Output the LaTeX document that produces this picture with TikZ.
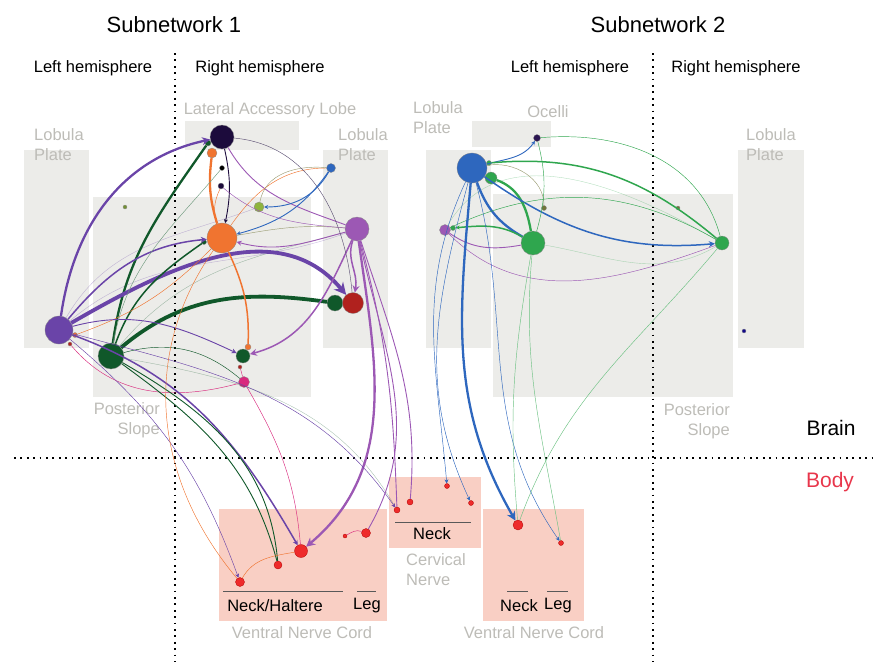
\documentclass[tikz,border=0pt]{standalone}
\usepackage{fontspec}
\setmainfont{Liberation Sans}
\usetikzlibrary{arrows.meta}
\usetikzlibrary{positioning}

\definecolor{regiongray}{HTML}{ECECE9}
\definecolor{labelgray}{HTML}{BDBCB7}
\definecolor{bodypink}{HTML}{F9CFC4}
\definecolor{bodyred}{HTML}{EE2B2B}
\definecolor{bodytext}{HTML}{E8364B}
\definecolor{cpur}{HTML}{6A44A8}
\definecolor{cdg}{HTML}{10582A}
\definecolor{cnav}{HTML}{1C0B3C}
\definecolor{corg}{HTML}{F07430}
\definecolor{cblu}{HTML}{2E67BE}
\definecolor{cyg}{HTML}{8FB43E}
\definecolor{corc}{HTML}{9C58B4}
\definecolor{cred}{HTML}{B0211E}
\definecolor{cmag}{HTML}{D9287D}
\definecolor{cgrn}{HTML}{2FA64E}
\definecolor{colv}{HTML}{72743A}
\definecolor{cpink}{HTML}{E2557A}

\newcommand{\lblfont}{\fontsize{16.5}{20}\selectfont}
\newcommand{\hdfont}{\fontsize{22}{26}\selectfont}
\newcommand{\bigfont}{\fontsize{21}{24}\selectfont}

\tikzset{
  nd/.style={circle, inner sep=0pt, draw=black!45, line width=0.3pt},
  bnd/.style={circle, inner sep=0pt, draw=red!70!black, line width=0.3pt, fill=bodyred},
  region/.style={fill=regiongray, draw=none},
  bodybox/.style={fill=bodypink, draw=none},
  rlabel/.style={text=labelgray, font=\lblfont, inner sep=0pt},
  blabel/.style={font=\lblfont, inner sep=0pt},
  sepline/.style={line width=1.8pt, dash pattern=on 1.8pt off 4.6pt},
  barline/.style={black!65, line width=1pt},
  arr/.style={-{Stealth[length=#1, width=#1]}},
  arr/.default=5pt,
  e0/.style={line width=0.45pt},
  e1/.style={line width=0.9pt},
  e2/.style={line width=1.5pt},
  e3/.style={line width=2.3pt},
  e4/.style={line width=3.8pt},
  faint/.style={line width=0.4pt, opacity=0.35},
}

\begin{document}
\begin{tikzpicture}[x=1pt, y=-1pt]
\useasboundingbox (0,0) rectangle (874,662);

% regions of the brain
\fill[region] (24,150) rectangle (89,348);
\fill[region] (93,197) rectangle (311,397);
\fill[region] (185,121) rectangle (299,150);
\fill[region] (323,150) rectangle (388,348);
\fill[region] (426,150) rectangle (491,348);
\fill[region] (472,121) rectangle (551,147);
\fill[region] (493,194) rectangle (733,397);
\fill[region] (738,150) rectangle (804,348);

% regions of the body
\fill[bodybox] (219,509) rectangle (387,621);
\fill[bodybox] (389,477) rectangle (481,548);
\fill[bodybox] (483,509) rectangle (584,621);

% separators
\draw[sepline] (175,53) -- (175,662);
\draw[sepline] (653,53) -- (653,662);
\draw[sepline] (14,458) -- (874,458);

% headings
\node[font=\hdfont] (sub1) at (174,25) {Subnetwork 1};
\node[font=\hdfont] (sub2) at (658,25) {Subnetwork 2};
\node[blabel] (lh1) at (93,68) {Left hemisphere};
\node[blabel] (rh1) at (260,68) {Right hemisphere};
\node[blabel] (lh2) at (570,68) {Left hemisphere};
\node[blabel] (rh2) at (736,68) {Right hemisphere};
\node[font=\bigfont] (brain) at (831,428) {Brain};
\node[font=\bigfont, text=bodytext] (body) at (830,482) {Body};

% region labels
\node[rlabel, align=left, anchor=north west] (lp1l) at (34,128) {Lobula\\Plate};
\node[rlabel] (lal) at (270,110) {Lateral Accessory Lobe};
\node[rlabel, align=left, anchor=north west] (lp1r) at (338,128) {Lobula\\Plate};
\node[rlabel, align=right, anchor=north east] (ps1) at (160,402) {Posterior\\Slope};
\node[rlabel, align=left, anchor=north west] (lp2l) at (413,101) {Lobula\\Plate};
\node[rlabel] (oce) at (548,112) {Ocelli};
\node[rlabel, align=left, anchor=north west] (lp2r) at (746,128) {Lobula\\Plate};
\node[rlabel, align=right, anchor=north east] (ps2) at (730,403) {Posterior\\Slope};
\node[rlabel, align=left, anchor=north west] (cerv) at (406,553) {Cervical\\Nerve};
\node[rlabel] (vnc1) at (302,633) {Ventral Nerve Cord};
\node[rlabel] (vnc2) at (534,633) {Ventral Nerve Cord};

% body labels
\node[blabel] (nh) at (275,606) {Neck/Haltere};
\node[blabel] (leg1) at (367,606) {Leg};
\node[blabel] (neck1) at (432,534) {Neck};
\node[blabel] (neck2) at (519,606) {Neck};
\node[blabel] (leg2) at (558,606) {Leg};
\draw[barline] (223,591) -- (343,591);
\draw[barline] (357,591) -- (376,591);
\draw[barline] (395,522) -- (471,522);
\draw[barline] (507,591) -- (528,591);
\draw[barline] (547,591) -- (568,591);

% subnetwork 1 neurons
\node[nd, fill=cpur, minimum size=28pt] (pur) at (59,330) {};
\node[nd, fill=cdg, minimum size=26pt] (dg) at (111,356) {};
\node[nd, fill=cnav, minimum size=24pt] (nav) at (222,137) {};
\node[nd, fill=cdg, minimum size=6pt] (navg) at (208,143) {};
\node[nd, fill=corg, minimum size=10pt] (orgs) at (212,153) {};
\node[nd, fill=black, minimum size=5pt] (nav2) at (222,168) {};
\node[nd, fill=cnav, minimum size=6pt] (nav3) at (221,186) {};
\node[nd, fill=corg, minimum size=30pt] (org) at (222,238) {};
\node[nd, fill=cdg, minimum size=5pt] (orgg) at (204,242) {};
\node[nd, fill=cblu, minimum size=9pt] (blu) at (331,168) {};
\node[nd, fill=cyg, minimum size=10pt] (yg) at (259,207) {};
\node[nd, fill=cyg!80!black, minimum size=4pt] (olv) at (125,207) {};
\node[nd, fill=corc, minimum size=24pt] (orc) at (357,229) {};
\node[nd, fill=cdg, minimum size=16pt] (dg2) at (335,303) {};
\node[nd, fill=cred, minimum size=21pt] (red) at (353,303) {};
\node[nd, fill=cdg, minimum size=14pt] (dgs) at (243,356) {};
\node[nd, fill=corg, minimum size=6pt] (orgs2) at (248,347) {};
\node[nd, fill=cred, minimum size=4pt] (reds) at (240,367) {};
\node[nd, fill=cmag, minimum size=11pt] (mag) at (244,382) {};
\node[nd, fill=corg, minimum size=5pt] (purorg) at (75,335) {};
\node[nd, fill=cred, minimum size=4pt] (purred) at (70,344) {};

% subnetwork 2 neurons
\node[nd, fill=cblu, minimum size=30pt] (blu2) at (472,168) {};
\node[nd, fill=cgrn, minimum size=12pt] (g2) at (491,178) {};
\node[nd, fill=cgrn, minimum size=5pt] (gsm) at (489,163) {};
\node[nd, fill=cnav!80!cpur, minimum size=7pt] (dp) at (537,138) {};
\node[nd, fill=colv, minimum size=5pt] (olv2) at (544,208) {};
\node[nd, fill=corc, minimum size=11pt] (orc2) at (445,230) {};
\node[nd, fill=cgrn, minimum size=5pt] (gsm2) at (453,228) {};
\node[nd, fill=cgrn, minimum size=24pt] (grb) at (533,243) {};
\node[nd, fill=colv, minimum size=4pt] (olv3) at (678,208) {};
\node[nd, fill=cgrn, minimum size=14pt] (grr) at (722,243) {};
\node[nd, fill=cnav!60!blue, minimum size=4pt] (navt) at (744,331) {};

% motor neurons
\node[bnd, minimum size=9pt] (b1) at (240,582) {};
\node[bnd, minimum size=8pt] (b2) at (278,565) {};
\node[bnd, minimum size=13pt] (b3) at (301,551) {};
\node[bnd, minimum size=4pt] (b4) at (345,536) {};
\node[bnd, minimum size=9pt] (b5) at (366,533) {};
\node[bnd, minimum size=6pt] (c1) at (397,510) {};
\node[bnd, minimum size=6pt] (c2) at (410,502) {};
\node[bnd, minimum size=5pt] (c3) at (447,486) {};
\node[bnd, minimum size=5pt] (c4) at (471,503) {};
\node[bnd, minimum size=10pt] (v1) at (518,525) {};
\node[bnd, minimum size=5pt] (v2) at (561,543) {};

% faint connections
\path[faint, cpur]
  (pur) edge[out=40, in=200] (orc)
  (pur) edge[out=60, in=200] (yg);
\path[faint, cdg]
  (dg) edge[out=50, in=195] (orc)
  (dg) edge[out=-10, in=120] (c1);
\path[faint, cgrn]
  (grb) edge[out=-10, in=-150] (grr)
  (orc2) edge[out=60, in=150] (grr);

% subnetwork 1, brain
\path[cpur, e3, arr=8pt]
  (pur) edge[out=82, in=192] (nav);
\path[cdg, e3]
  (dg) edge[out=82, in=235] (navg);
\path[cpur, e4, arr=12pt]
  (pur) edge[out=30, in=130] (red);
\path[cdg, e4]
  (dg) edge[out=40, in=172] (dg2);
\path[cpur, e2, arr=6pt]
  (pur) edge[out=50, in=185] (org);
\path[cdg, e2]
  (dg) edge[out=70, in=215] (orgg);
\path[corg, e3]
  (org) edge[bend left=12] (orgs);
\path[cnav, e1, arr=4pt]
  (nav) edge[bend left=12] (org);
\path[corg, e2]
  (org) edge[out=-65, in=88] (orgs2);
\path[corc, e2, arr=7pt]
  (orc) edge[out=245, in=15] (dgs)
  (orc) edge[out=250, in=80] (red);
\path[corc, e1, arr=5pt]
  (orc) edge[out=195, in=-15] (org);
\path[corc, e1]
  (orc) edge[out=160, in=-60] (nav);
\path[cblu, e1, arr=4pt]
  (blu) edge[out=240, in=0] (yg)
  (blu) edge[out=235, in=15] (org);
\path[corg, e0]
  (org) edge[out=55, in=180] (blu)
  (purorg) edge[out=20, in=225] (org)
  (org) edge[bend left=20] (nav3);
\path[colv!70, e0]
  (yg) edge[out=80, in=175] (blu)
  (orc) edge[out=175, in=10] (org);
\path[cnav!70, e0]
  (nav) edge[out=-5, in=95] (red);
\path[cpur, e1, arr=5pt]
  (pur) edge[out=15, in=155] (dgs);
\path[cdg, e0]
  (dg) edge[out=15, in=140] (mag);
\path[cdg!60, e0]
  (dg) edge[out=80, in=230] (nav2);
\path[corc, e0]
  (orc) edge[out=175, in=-40] (nav3);
\path[cmag, e0]
  (purred) edge[out=-50, in=195] (mag)
  (reds) edge (mag);

% subnetwork 1, brain to body
\path[corc, e3, arr=9pt]
  (orc) edge[out=-82, in=40] (b3);
\path[cpur, e2, arr=5pt]
  (pur) edge[out=-20, in=120] (b3);
\path[cdg, e1]
  (dg) edge[out=-30, in=95] (b2)
  (dg) edge[out=-36, in=105] (b2);
\path[cpur, e0, arr=4pt]
  (pur) edge[out=-40, in=110] (b1)
  (pur) edge[out=-15, in=125] (c1);
\path[corg, e0]
  (org) edge[out=235, in=130] (b1)
  (b1) edge[out=60, in=190] (b3);
\path[cmag, e0]
  (mag) edge[out=-60, in=95] (b3)
  (b5) edge[out=160, in=30] (b4);
\path[corc, e1]
  (orc) edge[out=-75, in=92] (c1)
  (orc) edge[out=-72, in=85] (c2)
  (orc) edge[out=-78, in=60] (b5);

% subnetwork 2, brain
\path[cblu, e1, arr=4pt]
  (blu2) edge[out=15, in=235] (dp);
\path[cgrn, e2]
  (grr) edge[out=140, in=5] (gsm);
\path[cgrn, e3]
  (g2) edge[out=-20, in=100] (grb);
\path[cblu, e3]
  (blu2) edge[bend right=20] (grb);
\path[cblu, e2, arr=6pt]
  (blu2) edge[out=-35, in=185] (grr);
\path[colv!70, e0]
  (blu2) edge[out=10, in=90] (olv2);
\path[cgrn, e2, arr=4pt]
  (grb) edge[out=150, in=5] (gsm2);
\path[corc, e1]
  (orc2) edge[out=-35, in=190] (grb);
\path[corc, e0]
  (orc2) edge[out=-45, in=200] (grr);
\path[cgrn, e0]
  (grr) edge[out=150, in=25] (orc2)
  (dp) edge[out=5, in=105] (grr)
  (grb) edge[bend right=15] (dp);

% subnetwork 2, brain to body
\path[cblu, e3, arr=9pt]
  (blu2) edge[out=-95, in=120] (v1);
\path[cblu, e0, arr=4pt]
  (blu2) edge[out=-115, in=95] (c3)
  (blu2) edge[out=-105, in=115] (c4)
  (blu2) edge[out=-75, in=125] (v2);
\path[cgrn!70, e0]
  (grb) edge[out=-100, in=95] (v1)
  (grr) edge[out=-130, in=70] (v1)
  (grb) edge[out=-95, in=100] (v2);
\end{tikzpicture}
\end{document}
